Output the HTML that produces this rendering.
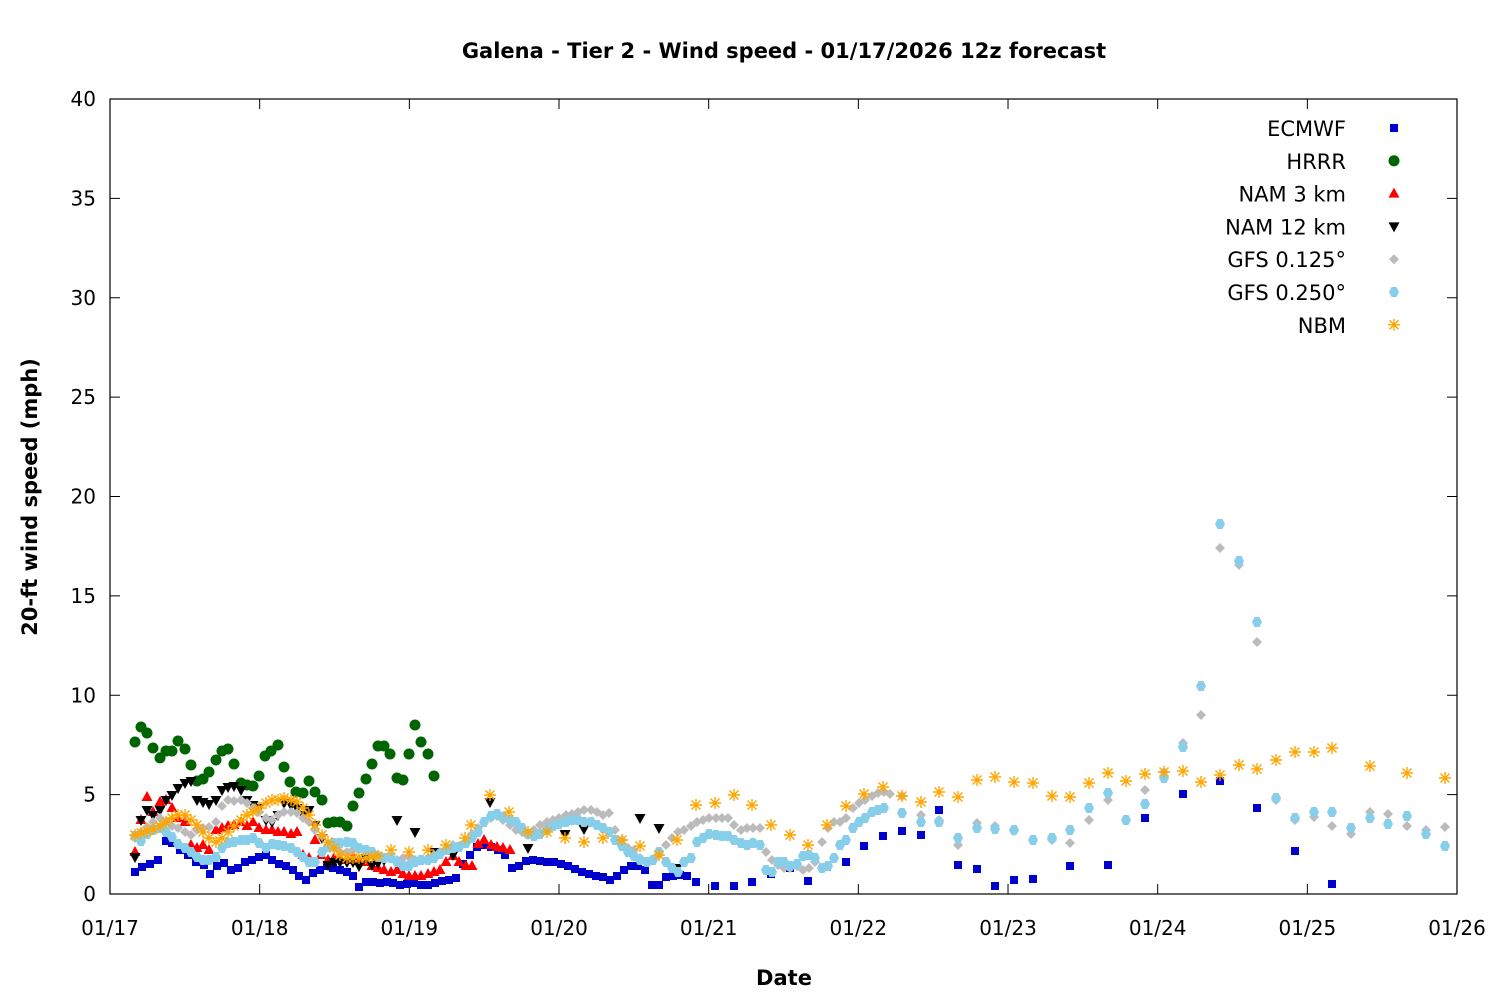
<!DOCTYPE html>
<html><head><meta charset="utf-8"><style>
body{margin:0;background:#fff}
svg{display:block;font-family:"DejaVu Sans","Liberation Sans",sans-serif}
</style></head><body>
<svg id="s" width="1500" height="1000" xmlns="http://www.w3.org/2000/svg">
<rect width="1500" height="1000" fill="#fff"/>
<text x="784" y="58" text-anchor="middle" font-size="21" font-weight="bold">Galena - Tier 2 - Wind speed - 01/17/2026 12z forecast</text>
<text x="784" y="985" text-anchor="middle" font-size="21" font-weight="bold">Date</text>
<text transform="translate(37,497) rotate(-90)" text-anchor="middle" font-size="21" font-weight="bold">20-ft wind speed (mph)</text>
<g id="ax"></g>
<g id="data"></g>
<rect x="110" y="99" width="1347" height="795" fill="none" stroke="#000" stroke-width="1.2"/>
<g id="leg" font-size="21" text-anchor="end"></g>
</svg>
<script>
const NS="http://www.w3.org/2000/svg";
function el(t,a,p,txt){const e=document.createElementNS(NS,t);for(const k in a)e.setAttribute(k,a[k]);if(txt!=null)e.textContent=txt;p.appendChild(e);return e;}
const ax=document.getElementById('ax'),dg=document.getElementById('data'),lg=document.getElementById('leg');
for(let v=0;v<=40;v+=5){const y=894-v*19.875;
 el('line',{x1:110,x2:120,y1:y,y2:y,stroke:'#000'},ax);el('line',{x1:1447,x2:1457,y1:y,y2:y,stroke:'#000'},ax);
 el('text',{x:96,y:y+7,'text-anchor':'end','font-size':20},ax,String(v));}
const days=['01/17','01/18','01/19','01/20','01/21','01/22','01/23','01/24','01/25','01/26'];
days.forEach((d,i)=>{const x=110+i*149.67;
 el('line',{x1:x,x2:x,y1:894,y2:884,stroke:'#000'},ax);el('line',{x1:x,x2:x,y1:99,y2:109,stroke:'#000'},ax);
 el('text',{x:x,y:935,'text-anchor':'middle','font-size':20},ax,d);});
function mk(type,x,y,g){
 if(type=='sq')el('rect',{x:x-4,y:y-4,width:8,height:8,fill:'#0000cc'},g);
 else if(type=='ci')el('circle',{cx:x,cy:y,r:5.5,fill:'#006400'},g);
 else if(type=='up')el('polygon',{points:`${x},${y-6} ${x-5.5},${y+4} ${x+5.5},${y+4}`,fill:'#ff0000'},g);
 else if(type=='dn')el('polygon',{points:`${x},${y+6} ${x-5.5},${y-4} ${x+5.5},${y-4}`,fill:'#000'},g);
 else if(type=='di')el('polygon',{points:`${x},${y-5} ${x+5},${y} ${x},${y+5} ${x-5},${y}`,fill:'#bbbbbb'},g);
 else if(type=='hx')el('polygon',{points:`${x-2.5},${y-5} ${x+2.5},${y-5} ${x+5},${y} ${x+2.5},${y+5} ${x-2.5},${y+5} ${x-5},${y}`,fill:'#87ceeb'},g);
 else if(type=='as'){const p=`M${x-6},${y}h12M${x},${y-6}v12M${x-4.5},${y-4.5}l9,9M${x-4.5},${y+4.5}l9,-9`;el('path',{d:p,stroke:'#ffa500','stroke-width':1.4,fill:'none'},g);}
}
function P(s){const a=s.trim().split(/\)\s*,?\s*\(/).map(t=>t.replace(/[()]/g,'').split(',').map(Number));return a;}
const S={
sq:P(`(135,872),(142,867),(150,864),(158,860),(166,841),(172,843),(180,850),(188,855),(196,862),(204,865),(210,874),(217,866),(224,863),(231,870),(238,868),(245,862),(252,860),(259,857),(266,855),(272,860),(279,864),(286,866),(293,870),(299,876),(306,880),(313,873),(320,870),(327,866),(333,868),(340,870),(347,872),(353,876),(359,887),(366,882),(373,882),(380,883),(387,882),(393,883),(400,885),(407,884),(414,883),(421,885),(428,885),(435,883),(442,881),(449,880),(456,878),(463,864),(470,855),(477,847),(484,845),(491,847),(498,850),(505,855),(512,868),(519,866),(526,861),(533,860),(540,861),(547,862),(554,862),(561,864),(568,866),(575,869),(582,872),(589,874),(596,876),(603,877),(610,880),(617,876),(624,870),(631,866),(638,866),(645,870),(652,885),(659,885),(666,877),(673,876),(680,875),(687,876),(696,882),(715,886),(734,886),(752,882),(771,874),(790,868),(808,881),(827,867),(846,862),(864,846),(883,836),(902,831),(921,835),(939,810),(958,865),(977,869),(995,886),(1014,880),(1033,879),(1070,866),(1108,865),(1145,818),(1183,794),(1220,781),(1257,808),(1295,851),(1332,884)`),
ci:P(`(135,742),(141,727),(147,733),(153,748),(160,758),(166,751),(172,751),(178,741),(185,749),(191,765),(197,781),(203,779),(209,772),(216,760),(222,751),(228,749),(234,764),(241,783),(247,785),(253,786),(259,776),(265,756),(271,751),(278,745),(284,767),(290,782),(296,792),(303,793),(309,781),(315,792),(322,800),(328,823),(334,822),(340,822),(347,826),(353,806),(359,793),(366,779),(372,764),(378,746),(384,746),(390,754),(397,778),(403,780),(409,754),(415,725),(421,742),(428,754),(434,776)`),
up:P(`(135,852),(141,820),(147,797),(153,812),(160,802),(166,800),(172,808),(178,818),(185,822),(191,845),(197,848),(203,845),(209,850),(216,830),(222,828),(228,826),(234,825),(241,822),(247,826),(253,822),(259,828),(266,830),(272,830),(278,832),(284,832),(291,834),(297,832),(303,855),(309,858),(315,840),(321,855),(328,860),(334,858),(340,858),(347,860),(353,858),(359,860),(366,862),(372,866),(378,868),(384,870),(391,872),(397,870),(403,874),(409,876),(415,876),(421,876),(428,874),(434,872),(440,870),(446,862),(453,856),(459,862),(466,866),(472,866),(478,844),(484,840),(491,845),(497,847),(503,848),(510,850)`),
dn:P(`(135,857),(141,820),(147,810),(153,815),(160,810),(166,800),(172,795),(178,788),(185,783),(191,781),(197,800),(203,802),(209,804),(216,800),(222,790),(228,787),(234,786),(241,790),(247,800),(253,805),(259,808),(266,820),(272,822),(278,815),(284,803),(291,805),(297,808),(303,815),(309,810),(315,825),(322,838),(328,865),(334,862),(340,862),(347,862),(353,862),(359,866),(366,858),(372,865),(378,863),(384,860),(397,820),(415,832),(434,852),(453,855),(490,802),(528,848),(565,834),(584,829),(640,818),(659,828),(677,868)`),
di:P(`(135,838),(141,832),(147,827),(153,822),(160,818),(166,822),(172,826),(178,828),(185,832),(191,835),(197,830),(203,828),(209,827),(216,822),(222,806),(228,800),(234,801),(241,800),(247,803),(253,808),(259,812),(266,818),(272,820),(278,815),(284,812),(291,812),(297,813),(303,818),(309,822),(315,830),(322,836),(328,845),(334,848),(340,852),(347,852),(353,850),(359,848),(366,850),(372,853),(378,855),(384,858),(391,858),(397,860),(403,858),(409,857),(415,860),(421,860),(428,858),(434,855),(440,852),(447,848),(453,845),(459,846),(466,842),(472,834),(478,828),(484,822),(491,818),(497,816),(503,820),(510,825),(516,830),(522,832),(528,835),(534,830),(540,825),(547,822),(553,820),(559,818),(566,815),(572,814),(578,812),(584,810),(591,810),(597,812),(603,815),(609,813),(615,830),(622,840),(628,848),(634,850),(640,858),(647,862),(653,860),(659,855),(666,845),(672,838),(678,832),(684,830),(691,826),(697,822),(703,820),(709,818),(716,818),(722,818),(728,818),(734,825),(741,830),(747,828),(753,828),(760,828),(766,852),(772,860),(778,865),(784,868),(790,868),(797,866),(803,870),(809,868),(815,862),(822,842),(828,828),(834,822),(840,822),(846,818),(853,808),(859,803),(865,800),(872,796),(878,793),(884,792),(890,794),(902,796),(921,815),(939,820),(958,845),(977,823),(995,826),(1014,831),(1033,840),(1052,840),(1070,843),(1089,820),(1108,800),(1126,820),(1145,790),(1164,772),(1183,743),(1201,715),(1220,548),(1239,565),(1257,642),(1276,800),(1295,820),(1314,817),(1332,826),(1351,834),(1370,812),(1388,814),(1407,826),(1426,830),(1445,827)`),
hx:P(`(135,836),(141,841),(147,834),(153,830),(160,828),(166,832),(172,837),(178,844),(185,848),(191,852),(197,857),(203,860),(209,860),(216,857),(222,848),(228,843),(234,842),(241,840),(247,840),(253,838),(259,843),(266,848),(272,844),(278,845),(284,846),(291,848),(297,852),(303,857),(309,862),(315,862),(322,852),(328,847),(334,843),(340,843),(347,842),(353,843),(359,848),(366,850),(372,852),(378,857),(384,858),(391,858),(397,862),(403,866),(409,866),(415,862),(421,860),(428,860),(434,858),(440,854),(447,850),(453,848),(459,847),(466,843),(472,838),(478,832),(484,822),(491,816),(497,814),(503,817),(510,820),(516,822),(522,828),(528,834),(534,836),(540,834),(547,830),(553,826),(559,824),(566,822),(572,820),(578,820),(584,822),(591,822),(597,825),(603,828),(609,832),(615,840),(622,846),(628,852),(634,856),(640,860),(647,862),(653,860),(659,852),(666,862),(672,868),(678,872),(684,862),(691,858),(697,842),(703,838),(709,834),(716,835),(722,836),(728,836),(734,840),(741,843),(747,845),(753,843),(760,845),(766,870),(772,872),(778,862),(784,862),(790,866),(797,864),(803,856),(809,855),(815,858),(822,868),(828,866),(834,858),(840,845),(846,840),(853,828),(859,822),(865,818),(872,812),(878,810),(884,808),(902,813),(921,822),(939,822),(958,838),(977,828),(995,829),(1014,830),(1033,840),(1052,838),(1070,830),(1089,808),(1108,793),(1126,820),(1145,804),(1164,778),(1183,747),(1201,686),(1220,524),(1239,561),(1257,622),(1276,798),(1295,818),(1314,812),(1332,812),(1351,828),(1370,818),(1388,824),(1407,816),(1426,834),(1445,846)`),
as:P(`(135,835),(141,833),(147,831),(153,829),(160,826),(166,822),(172,818),(178,815),(185,815),(191,820),(197,825),(203,832),(209,838),(216,842),(222,838),(228,832),(234,826),(241,820),(247,815),(253,812),(259,808),(266,803),(272,800),(278,800),(284,798),(291,800),(297,802),(303,808),(309,815),(315,825),(322,835),(328,842),(334,848),(340,855),(347,858),(353,858),(359,858),(366,858),(372,857),(378,856),(391,850),(409,852),(428,850),(446,845),(465,838),(471,825),(490,795),(509,812),(528,832),(547,832),(565,838),(584,842),(603,838),(622,840),(640,846),(659,855),(677,840),(696,805),(715,803),(734,795),(752,805),(771,825),(790,835),(808,845),(827,825),(846,806),(864,794),(883,787),(902,796),(921,802),(939,792),(958,797),(977,780),(995,777),(1014,782),(1033,783),(1052,796),(1070,797),(1089,783),(1108,773),(1126,781),(1145,774),(1164,772),(1183,771),(1201,782),(1220,775),(1239,765),(1257,769),(1276,760),(1295,752),(1314,752),(1332,748),(1370,766),(1407,773),(1445,778)`)};
['sq','ci','up','dn','di','hx','as'].forEach(t=>{const g=el('g',{},dg);S[t].forEach(p=>mk(t,p[0],p[1],g));});
const L=[['ECMWF','sq'],['HRRR','ci'],['NAM 3 km','up'],['NAM 12 km','dn'],['GFS 0.125°','di'],['GFS 0.250°','hx'],['NBM','as']];
L.forEach((l,i)=>{const y=128+i*32.8;el('text',{x:1346,y:y+8},lg,l[0]);mk(l[1],1394,y,lg);});
</script>
</body></html>
